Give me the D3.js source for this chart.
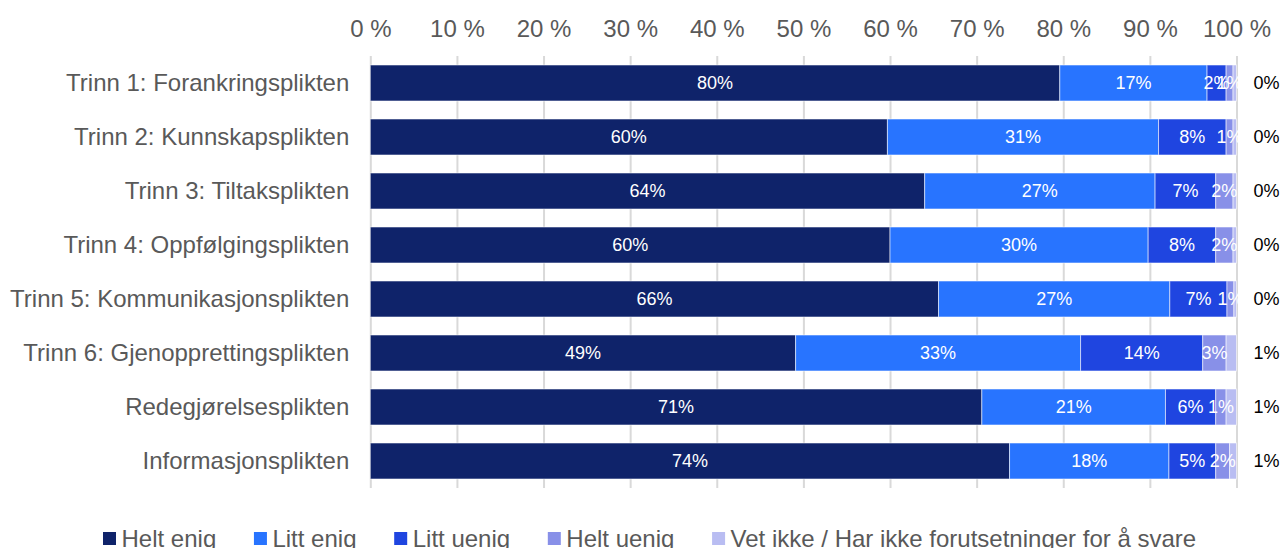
<!DOCTYPE html>
<html>
<head>
<meta charset="utf-8">
<script src="https://cdn.jsdelivr.net/npm/d3@7"></script>
<style>
	body { margin: 0; background: #fff; }
	svg { display: block; font-family: "Liberation Sans", Arial, sans-serif; }
	.grid line { stroke: #d9d9d9; stroke-width: 2; }
	.grid .domain { display: none; }
</style>
</head>
<body>
<svg id="chart"></svg>
<script>
const categories = [
	'Trinn 1: Forankringsplikten',
	'Trinn 2: Kunnskapsplikten',
	'Trinn 3: Tiltaksplikten',
	'Trinn 4: Oppfølgingsplikten',
	'Trinn 5: Kommunikasjonsplikten',
	'Trinn 6: Gjenopprettingsplikten',
	'Redegjørelsesplikten',
	'Informasjonsplikten'
];
const seriesNames = ['Helt enig', 'Litt enig', 'Litt uenig', 'Helt uenig', 'Vet ikke / Har ikke forutsetninger for å svare'];
const heltEnig  = [79.6, 59.7, 64.0, 60.0, 65.6, 49.1, 70.6, 73.8];
const littEnig  = [17.0, 31.3, 26.6, 29.8, 26.7, 32.9, 21.2, 18.4];
const littUenig = [2.2, 7.8, 7.0, 7.8, 6.6, 14.1, 5.8, 5.4];
const heltUenig = [0.8, 0.8, 2.0, 2.0, 0.8, 2.7, 1.2, 1.6];
const vetIkke   = [0.4, 0.4, 0.4, 0.4, 0.3, 1.2, 1.2, 0.8];
const xTicks = [0, 10, 20, 30, 40, 50, 60, 70, 80, 90, 100];
const colours = ['#0f236a', '#2874ff', '#1f45e0', '#8890e8', '#b9bdf2'];

const config = {
	containerWidth: 1282,
	containerHeight: 548,
	margin: { top: 56, right: 45.5, bottom: 60, left: 370.3 },
	fontSize: 24,
	labelSize: 18
};
config.width = config.containerWidth - config.margin.left - config.margin.right;
config.height = config.containerHeight - config.margin.top - config.margin.bottom;

// build table rows for the stack
const seriesValues = [heltEnig, littEnig, littUenig, heltUenig, vetIkke];
const data = categories.map((c, i) => {
	const row = { category: c };
	seriesNames.forEach((s, j) => { row[s] = seriesValues[j][i]; });
	return row;
});
const stacked = d3.stack().keys(seriesNames)(data);

const svg = d3.select('#chart')
	.attr('width', config.containerWidth)
	.attr('height', config.containerHeight);

const chartArea = svg.append('g')
	.attr('transform', `translate(${config.margin.left},${config.margin.top})`);

const xScale = d3.scaleLinear().domain([0, 100]).range([0, config.width]);
const yScale = d3.scaleBand().domain(categories).range([0, config.height]).paddingInner(1 / 3).paddingOuter(1 / 6);

// gridlines
chartArea.append('g')
	.attr('class', 'grid')
	.attr('transform', `translate(0,${config.height})`)
	.call(d3.axisBottom(xScale).tickValues(xTicks).tickSize(config.height).tickFormat(''))
	.call(g => g.selectAll('.tick line').attr('y1', 0).attr('y2', -config.height));

// top axis labels
const xAxisG = chartArea.append('g')
	.call(d3.axisTop(xScale).tickValues(xTicks).tickSize(0).tickPadding(19).tickFormat(d => d + ' %'));
xAxisG.select('.domain').remove();
xAxisG.selectAll('text')
	.attr('font-size', config.fontSize)
	.attr('font-family', '"Liberation Sans", Arial, sans-serif')
	.attr('fill', '#595959');

// left category labels
const yAxisG = chartArea.append('g')
	.call(d3.axisLeft(yScale).tickSize(0).tickPadding(21));
yAxisG.select('.domain').remove();
yAxisG.selectAll('text')
	.attr('font-size', config.fontSize)
	.attr('font-family', '"Liberation Sans", Arial, sans-serif')
	.attr('fill', '#595959');

// bars
const layers = chartArea.selectAll('.layer')
	.data(stacked)
	.join('g')
	.attr('class', 'layer')
	.attr('fill', (d, i) => colours[i]);

layers.selectAll('rect')
	.data(d => d)
	.join('rect')
	.attr('x', d => xScale(d[0]))
	.attr('y', d => yScale(d.data.category))
	.attr('width', d => xScale(d[1]) - xScale(d[0]))
	.attr('height', yScale.bandwidth())
	.attr('stroke', '#fff')
	.attr('stroke-opacity', 0.55)
	.attr('stroke-width', 1);

// labels inside segments (all but last series)
stacked.slice(0, 4).forEach(layer => {
	chartArea.append('g').selectAll('text')
		.data(layer)
		.join('text')
		.attr('x', d => xScale((d[0] + d[1]) / 2))
		.attr('y', d => yScale(d.data.category) + yScale.bandwidth() / 2)
		.attr('dy', '0.35em')
		.attr('text-anchor', 'middle')
		.attr('font-size', config.labelSize)
		.attr('fill', '#fff')
		.text(d => Math.round(d[1] - d[0]) + '%');
});

// last series labels outside the bar
chartArea.append('g').selectAll('text')
	.data(stacked[4])
	.join('text')
	.attr('x', xScale(100) + 30)
	.attr('y', d => yScale(d.data.category) + yScale.bandwidth() / 2)
	.attr('dy', '0.35em')
	.attr('text-anchor', 'middle')
	.attr('font-size', config.labelSize)
	.attr('fill', '#000')
	.text(d => Math.round(d[1] - d[0]) + '%');

// legend, each item placed after the previous text
const legend = svg.append('g').attr('transform', 'translate(103,547)');
let lx = 0;
seriesNames.forEach((s, i) => {
	const item = legend.append('g').attr('transform', `translate(${lx},0)`);
	item.append('rect')
		.attr('x', 0).attr('y', -15)
		.attr('width', 13).attr('height', 13)
		.attr('fill', colours[i]);
	const t = item.append('text')
		.attr('x', 18.5)
		.attr('font-size', config.fontSize)
		.attr('fill', '#595959')
		.text(s);
	lx += 18.5 + t.node().getComputedTextLength() + 37.7;
});
</script>
</body>
</html>
